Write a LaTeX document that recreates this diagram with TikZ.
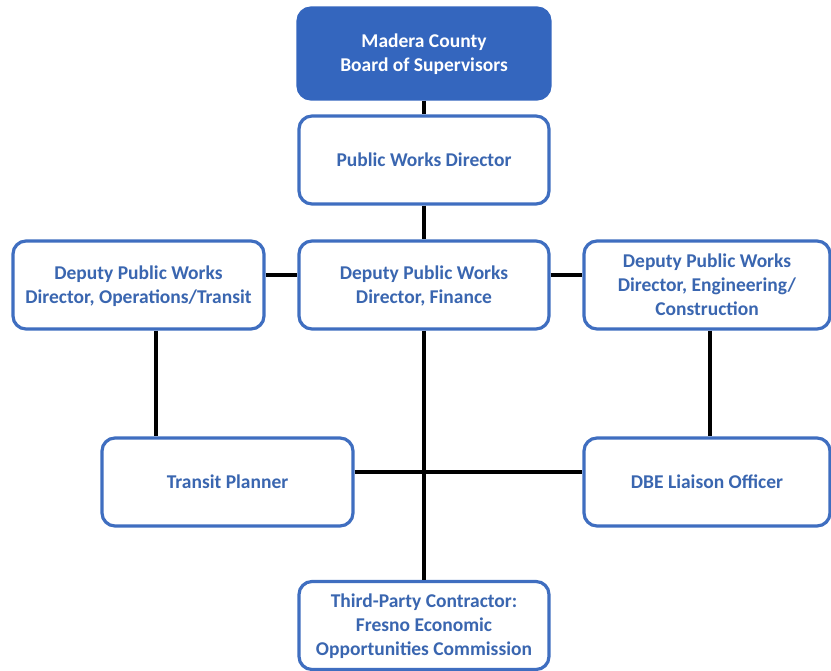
\documentclass[tikz,border=0pt]{standalone}
\usepackage{fontspec}
\setmainfont{Carlito}
\definecolor{boxblue}{HTML}{3F6EC0}
\definecolor{txtblue}{HTML}{3A66B0}
\definecolor{topfill}{HTML}{3466BE}
\begin{document}
\begin{tikzpicture}[x=1pt,y=-1pt,
  orgbox/.style={draw=boxblue, line width=3.2pt, rounded corners=13pt, fill=white,
    text=txtblue, font=\fontsize{19.5}{24}\selectfont\bfseries, align=center,
    inner sep=0pt, text depth=1pt},
  topbox/.style={orgbox, fill=topfill, draw=topfill, text=white},
  link/.style={line width=3.5pt, black}]
\useasboundingbox (0,0) rectangle (831,671);
\node[topbox, minimum width=252pt, minimum height=91pt] (bos) at (424,53.5) {Madera County\\Board of Supervisors};
\node[orgbox, minimum width=250pt, minimum height=88pt] (pwd) at (424,160) {Public Works Director};
\node[orgbox, minimum width=251pt, minimum height=88pt] (dl) at (138.5,285) {Deputy Public Works\\Director, Operations/Transit};
\node[orgbox, minimum width=250pt, minimum height=88pt] (dm) at (424,285) {Deputy Public Works\\Director, Finance};
\node[orgbox, minimum width=246pt, minimum height=88pt] (dr) at (707,285) {Deputy Public Works\\Director, Engineering/\\Construction};
\node[orgbox, minimum width=251pt, minimum height=88pt] (tp) at (227.5,482) {Transit Planner};
\node[orgbox, minimum width=246pt, minimum height=88pt] (dbe) at (707,482) {DBE Liaison Officer};
\node[orgbox, minimum width=250pt, minimum height=88pt] (tpc) at (424,625.5) {Third-Party Contractor:\\Fresno Economic\\Opportunities Commission};
\draw[link] (bos.south) -- (pwd.north);
\draw[link] (pwd.south) -- (dm.north);
\draw[link] (dl.east |- 0,275) -- (dm.west |- 0,275);
\draw[link] (dm.east |- 0,275) -- (dr.west |- 0,275);
\draw[link] (dl.south -| 156,0) -- (tp.north -| 156,0);
\draw[link] (dr.south -| 710,0) -- (dbe.north -| 710,0);
\draw[link] (dm.south) -- (tpc.north);
\draw[link] (tp.east |- 0,472) -- (dbe.west |- 0,472);
\end{tikzpicture}
\end{document}
